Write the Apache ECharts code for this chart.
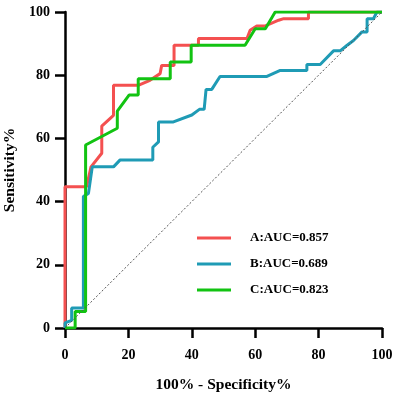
<!DOCTYPE html>
<html>
<head>
<meta charset="utf-8">
<script src="https://cdn.jsdelivr.net/npm/echarts@6/dist/echarts.min.js"></script>
<style>
  html, body { margin: 0; padding: 0; background: #fff; }
  #main { width: 400px; height: 399px; }
</style>
</head>
<body>
<div id="main"></div>
<script>
// ROC curves, x = 100% - specificity, y = sensitivity
const fprA = [0, 0, 6.8, 8.2, 11.6, 11.6, 15.3, 15.3, 23.1, 26.8, 30, 30.5, 34.4, 34.4, 42.1, 42.1, 57.4, 58.4, 60.5, 63.2, 67.4, 69, 76.8, 76.8, 100];
const tprA = [0, 44.7, 44.7, 51, 55.3, 63.9, 67.3, 76.8, 76.8, 78.4, 80.5, 83.1, 83.1, 89.5, 89.5, 91.6, 91.6, 94.2, 95.6, 95.6, 97.4, 97.9, 97.9, 100, 100];

const fprB = [0, 0, 2.1, 2.1, 5.8, 5.8, 7.4, 8.6, 15.3, 17.4, 27.7, 27.7, 29.5, 29.5, 34.2, 40, 42.4, 43.9, 44.5, 46.3, 48.9, 63.7, 67.9, 76.3, 76.3, 80.5, 84.7, 86.8, 89, 91, 93.7, 95.3, 95.3, 97.3, 98.4, 100];
const tprB = [0, 1.6, 2.4, 6.3, 6.3, 41.6, 42.6, 51, 51, 53.2, 53.2, 57.2, 58.9, 65.2, 65.2, 67.4, 69.2, 69.2, 75.5, 75.5, 79.6, 79.6, 81.5, 81.5, 83.4, 83.4, 87.7, 87.7, 89.5, 91, 93.7, 93.7, 97.9, 97.9, 100, 100];

const fprC = [0, 3.2, 3.2, 6.5, 6.5, 16.5, 16.5, 20.2, 23.1, 23.1, 33.2, 33.2, 39.8, 39.8, 56.8, 60, 63.2, 66.3, 100];
const tprC = [0, 0, 5.2, 5.2, 57.9, 63.2, 68.6, 73.7, 73.7, 78.9, 78.9, 84.2, 84.2, 89.5, 89.5, 94.7, 94.7, 100, 100];

const names = ["A:AUC=0.857", "B:AUC=0.689", "C:AUC=0.823"];
const colors = ["#F45050", "#1F9BB5", "#12C312"];
const axisTicks = [0, 20, 40, 60, 80, 100];

const zip = (xs, ys) => xs.map((x, i) => [x, ys[i]]);

const font = "Liberation Serif";

const makeAxis = (name, nameGap, labelMargin) => ({
  type: "value",
  min: axisTicks[0],
  max: axisTicks[axisTicks.length - 1],
  interval: axisTicks[1] - axisTicks[0],
  name: name,
  nameLocation: "middle",
  nameGap: nameGap,
  nameTextStyle: { fontFamily: font, fontWeight: "bold", fontSize: 15.5, color: "#000" },
  axisLine: { show: true, lineStyle: { color: "#000", width: 2.5 } },
  axisTick: { show: true, length: 10, lineStyle: { color: "#000", width: 2.5 } },
  axisLabel: { margin: labelMargin, fontFamily: font, fontWeight: "bold", fontSize: 14, color: "#000" },
  splitLine: { show: false },
});

const curve = (name, data, color) => ({
  name: name,
  type: "line",
  data: data,
  showSymbol: false,
  symbol: "none",
  smooth: false,
  color: color,
  lineStyle: { color: color, width: 3 },
});

const chart = echarts.init(document.getElementById("main"));
chart.setOption({
  animation: false,
  backgroundColor: "#fff",
  grid: { left: 65, right: 18, top: 12, bottom: 71, containLabel: false, outerBoundsMode: "none" },
  xAxis: makeAxis("100% - Specificity%", 49, 20),
  yAxis: makeAxis("Sensitivity%", 46, 15),
  legend: {
    data: names,
    orient: "vertical",
    left: 192,
    top: 225,
    icon: "rect",
    itemWidth: 34,
    itemHeight: 3,
    itemGap: 10,
    textStyle: { fontFamily: font, fontWeight: "bold", fontSize: 13, lineHeight: 16, color: "#000", padding: [0, 0, 0, 14] },
  },
  series: [
    curve(names[0], zip(fprA, tprA), colors[0]),
    curve(names[1], zip(fprB, tprB), colors[1]),
    curve(names[2], zip(fprC, tprC), colors[2]),
    {
      name: "ref",
      type: "line",
      data: [[0, 0], [100, 100]],
      showSymbol: false,
      symbol: "none",
      lineStyle: { color: "#555", width: 1, type: [2, 2] },
    },
  ],
});
</script>
</body>
</html>
